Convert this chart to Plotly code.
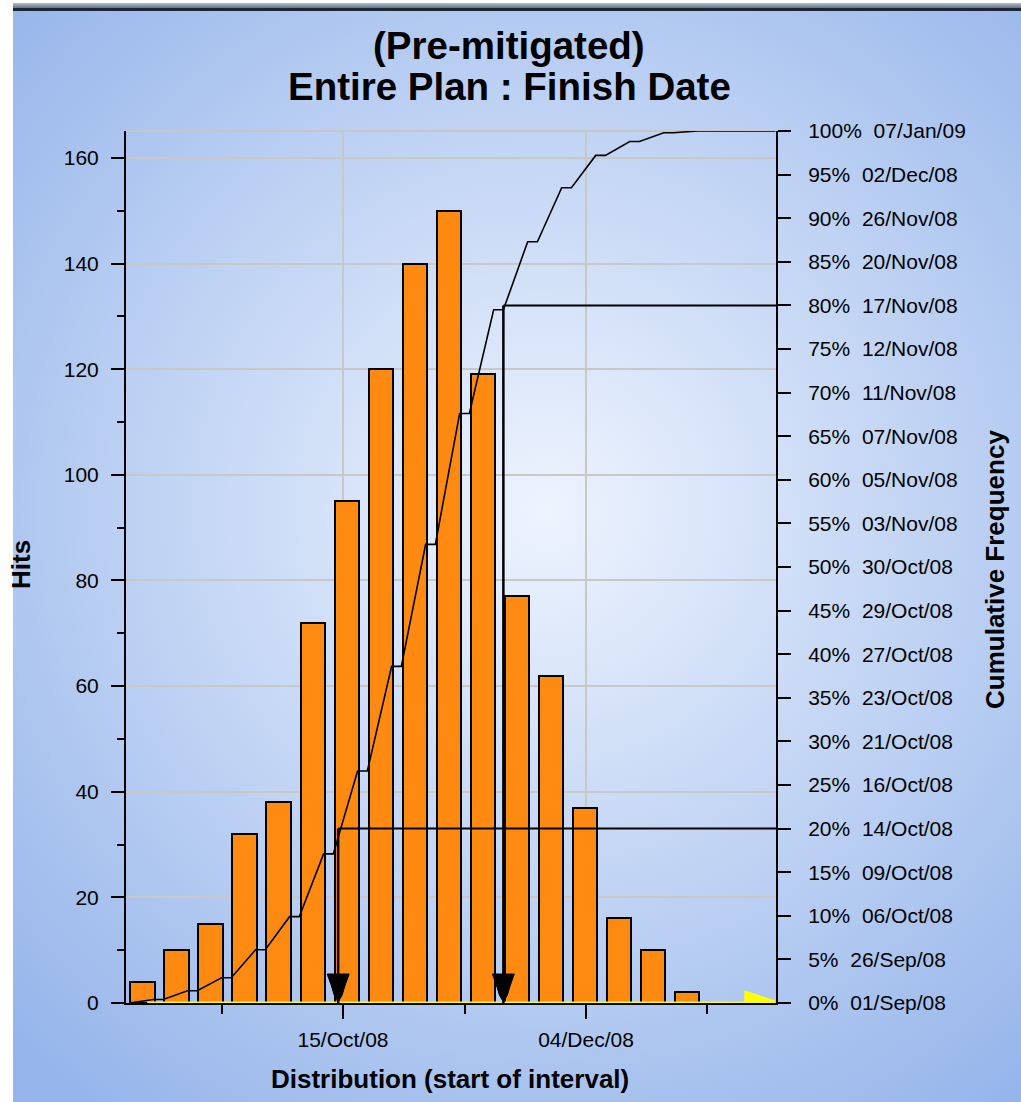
import base64
import plotly.graph_objects as go

# ---------------- data ----------------
bin_start_days = [0, 7, 14, 21, 28, 35, 42, 49, 56, 63, 70, 77, 84, 91, 98, 105, 112]  # days since 01/Sep/08
hits = [4, 10, 15, 32, 38, 72, 95, 120, 140, 150, 119, 77, 62, 37, 16, 10, 2]

cum_days = [0, 5, 7, 12, 14, 19, 21, 26, 28, 33, 35, 40, 42, 47, 49, 54, 56, 61, 63, 68,
            70, 75, 77, 82, 84, 89, 91, 96, 98, 103, 105, 110, 112, 117, 133]
cum_pct = [0, 0.4, 0.4, 1.4, 1.4, 2.9, 2.9, 6.1, 6.1, 9.9, 9.9, 17.1, 17.1, 26.6, 26.6, 38.6,
           38.6, 52.6, 52.6, 67.6, 67.6, 79.5, 79.5, 87.3, 87.3, 93.5, 93.5, 97.2, 97.2, 98.8,
           98.8, 99.8, 99.8, 100, 100]

yellow_days = [3.7, 126.9, 126.9, 132.9]
yellow_hits = [0, 0, 2.0, 0.2]

x_major_days = [44, 94]
x_major_labels = ["15/Oct/08", "04/Dec/08"]
x_minor_days = [19, 69, 119]

pct_ticks = [0, 5, 10, 15, 20, 25, 30, 35, 40, 45, 50, 55, 60, 65, 70, 75, 80, 85, 90, 95, 100]
pct_dates = ["01/Sep/08", "26/Sep/08", "06/Oct/08", "09/Oct/08", "14/Oct/08", "16/Oct/08",
             "21/Oct/08", "23/Oct/08", "27/Oct/08", "29/Oct/08", "30/Oct/08", "03/Nov/08",
             "05/Nov/08", "07/Nov/08", "11/Nov/08", "12/Nov/08", "17/Nov/08", "20/Nov/08",
             "26/Nov/08", "02/Dec/08", "07/Jan/09"]

marker_pct = [20, 80]
marker_days = [43, 77]

# ---------------- layout geometry ----------------
W, H = 1021, 1102
L, R, T, B = 126, 245, 131, 99
PW, PH = W - L - R, H - T - B
X_RANGE = [-0.66, 133.1]
Y_RANGE = [0, 165.1]

def px_x(p):
    return (p - L) / PW

def px_y(p):
    return (H - B - p) / PH

FONT = "Liberation Sans, Arial, sans-serif"

svg = f'''<svg xmlns="http://www.w3.org/2000/svg" width="{W}" height="{H}" viewBox="0 0 {W} {H}" preserveAspectRatio="none">
<defs>
<radialGradient id="g" gradientUnits="userSpaceOnUse" cx="545" cy="510" r="760">
<stop offset="0" stop-color="#eef4fe"/><stop offset="1" stop-color="#94b4ea"/></radialGradient>
<linearGradient id="t" x1="0" y1="0" x2="0" y2="1">
<stop offset="0" stop-color="#b4c0cc"/><stop offset="1" stop-color="#60728a"/></linearGradient>
</defs>
<rect width="{W}" height="{H}" fill="#ffffff"/>
<rect x="13" y="3" width="{W-13}" height="{H-3}" fill="url(#g)"/>
<rect x="13" y="3" width="{W-13}" height="5" fill="url(#t)"/>
<rect x="13" y="8" width="{W-13}" height="3" fill="#1c2733"/>
</svg>'''
bg_uri = "data:image/svg+xml;base64," + base64.b64encode(svg.encode()).decode()

fig = go.Figure()

fig.add_trace(go.Bar(
    x=bin_start_days, y=hits, offset=0.25, width=5.0,
    marker=dict(color="#ff8a12", line=dict(color="black", width=2)),
    showlegend=False, hoverinfo="skip",
))

fig.add_trace(go.Scatter(
    x=yellow_days, y=yellow_hits, mode="lines", fill="tozeroy",
    fillcolor="#ffff00", line=dict(color="#ffff00", width=3),
    showlegend=False, hoverinfo="skip",
))

fig.add_trace(go.Scatter(
    x=cum_days, y=cum_pct, yaxis="y2", mode="lines",
    line=dict(color="black", width=1.6),
    showlegend=False, hoverinfo="skip",
))

shapes = []
for p, d in zip(marker_pct, marker_days):
    shapes.append(dict(type="line", xref="x", yref="y2", x0=d, x1=X_RANGE[1], y0=p, y1=p,
                       line=dict(color="black", width=2), layer="above"))
    shapes.append(dict(type="line", xref="x", yref="y2", x0=d, x1=d, y0=p, y1=0,
                       line=dict(color="black", width=2.5), layer="above"))
    shapes.append(dict(type="path", xref="x", yref="y2", xsizemode="pixel", ysizemode="pixel",
                       xanchor=d, yanchor=0,
                       path="M -11 29 L 11 29 L 7 18 L 4 8 L 0 1 L -4 8 L -7 18 Z",
                       fillcolor="black", line=dict(color="black", width=1), layer="above"))
# top frame line
shapes.append(dict(type="line", xref="paper", yref="paper", x0=0, x1=1, y0=1, y1=1,
                   line=dict(color="#c4c6c8", width=2), layer="below"))

annotations = [
    dict(text="<b>(Pre-mitigated)</b>", xref="paper", yref="paper", x=px_x(509), y=px_y(45),
         showarrow=False, font=dict(family=FONT, size=38.5, color="black"), xanchor="center", yanchor="middle"),
    dict(text="<b>Entire Plan : Finish Date</b>", xref="paper", yref="paper", x=px_x(509), y=px_y(87),
         showarrow=False, font=dict(family=FONT, size=38.5, color="black"), xanchor="center", yanchor="middle"),
    dict(text="<b>Distribution (start of interval)</b>", xref="paper", yref="paper", x=px_x(450), y=px_y(1079),
         showarrow=False, font=dict(family=FONT, size=26, color="black"), xanchor="center", yanchor="middle"),
    dict(text="<b>Cumulative Frequency</b>", xref="paper", yref="paper", x=px_x(995), y=px_y(570),
         showarrow=False, textangle=-90, font=dict(family=FONT, size=26, color="black"),
         xanchor="center", yanchor="middle"),
    dict(text="<b>Hits</b>", xref="paper", yref="paper", x=px_x(21), y=px_y(565),
         showarrow=False, textangle=-90, font=dict(family=FONT, size=26, color="black"),
         xanchor="center", yanchor="middle"),
]

fig.update_layout(
    width=W, height=H,
    margin=dict(l=L, r=R, t=T, b=B, pad=0),
    paper_bgcolor="white",
    plot_bgcolor="rgba(0,0,0,0)",
    font=dict(family=FONT, size=21, color="black"),
    bargap=0,
    images=[dict(source=bg_uri, xref="paper", yref="paper", x=-L / PW, y=1 + T / PH,
                 sizex=W / PW, sizey=H / PH, xanchor="left", yanchor="top",
                 sizing="stretch", layer="below")],
    xaxis=dict(
        range=X_RANGE, tickmode="array", tickvals=x_major_days, ticktext=x_major_labels,
        ticks="outside", ticklen=14, tickwidth=2, tickcolor="black",
        showline=True, linecolor="black", linewidth=2,
        showgrid=True, gridcolor="#c8c9c6", gridwidth=2, zeroline=False,
        minor=dict(tickvals=x_minor_days, ticks="outside", ticklen=9, tickwidth=2,
                   tickcolor="black", showgrid=False),
        tickfont=dict(size=21, family=FONT), ticklabelstandoff=3,
    ),
    yaxis=dict(
        range=Y_RANGE, tickmode="linear", tick0=0, dtick=20,
        ticks="outside", ticklen=13, tickwidth=2, tickcolor="black",
        showline=True, linecolor="black", linewidth=2,
        showgrid=True, gridcolor="#c8c9c6", gridwidth=2, zeroline=False,
        minor=dict(dtick=10, ticks="outside", ticklen=7, tickwidth=2, tickcolor="black", showgrid=False),
        tickfont=dict(size=21, family=FONT), ticklabelstandoff=8,
    ),
    yaxis2=dict(
        range=[0, 100], overlaying="y", side="right",
        tickmode="array", tickvals=pct_ticks,
        ticktext=[f"{p}%&nbsp;&nbsp;{d}" for p, d in zip(pct_ticks, pct_dates)],
        ticks="outside", ticklen=13, tickwidth=2, tickcolor="black",
        showline=True, linecolor="black", linewidth=2,
        showgrid=False, zeroline=False,
        tickfont=dict(size=21, family=FONT), ticklabelstandoff=13,
    ),
    shapes=shapes,
    annotations=annotations,
)

fig.write_html("out.html", config={"displayModeBar": False},
               post_script="document.body.style.margin='0';document.body.style.overflow='hidden';")
